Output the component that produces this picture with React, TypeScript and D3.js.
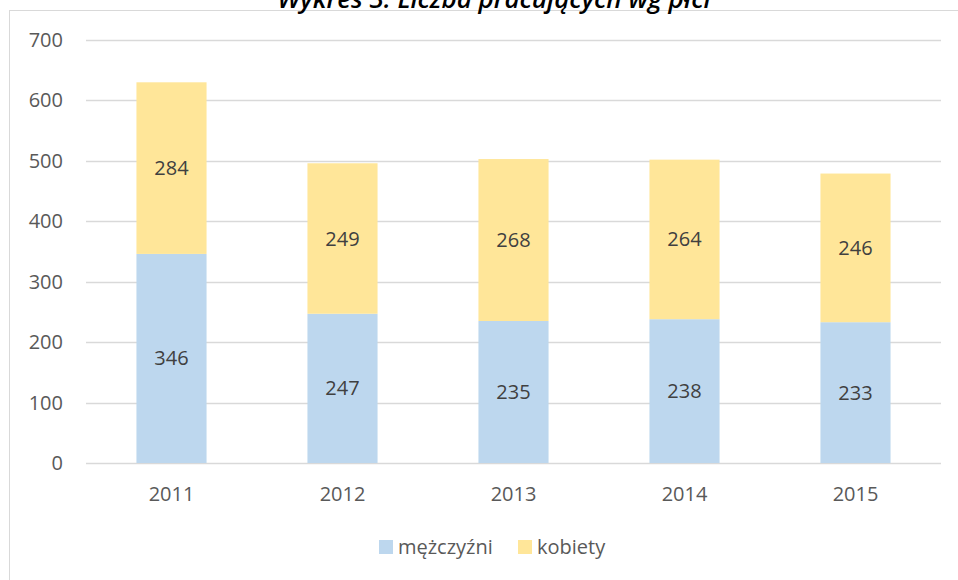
import * as d3 from "d3";

const years = ["2011", "2012", "2013", "2014", "2015"];
const men = [346, 247, 235, 238, 233];
const women = [284, 249, 268, 264, 246];
const yTicks = [0, 100, 200, 300, 400, 500, 600, 700];
const seriesNames = ["mężczyźni", "kobiety"];
const title = "Wykres 3. Liczba pracujących wg płci";

const W = 958;
const H = 580;
const colors = ["#BDD7EE", "#FFE699"];
const font = "'Open Sans', 'Noto Sans', sans-serif";

export default function App() {
  const margin = { top: 40, right: 17, bottom: 117, left: 86 };

  const x = d3
    .scaleBand()
    .domain(years)
    .range([margin.left, W - margin.right])
    .paddingInner(0.59)
    .paddingOuter(0.295);

  const y = d3
    .scaleLinear()
    .domain([0, 700])
    .range([H - margin.bottom, margin.top]);

  const data = years.map((yr, i) => ({ year: yr, men: men[i], women: women[i] }));
  const stacked = d3.stack<any>().keys(["men", "women"])(data);

  const legendX = [379, 518];

  return (
    <div style={{ position: "absolute", left: 0, top: 0 }}>
      <svg width={W} height={H} style={{ display: "block", background: "#fff" }}>
        {/* chart frame */}
        <rect x={9.5} y={10.5} width={W + 10} height={H + 10} fill="none" stroke="#d9d9d9" />

        <text
          x={494}
          y={8}
          textAnchor="middle"
          fontFamily="'Open Sans', sans-serif"
          fontStyle="italic"
          fontWeight={600}
          fontSize={26}
          fill="#000"
        >
          {title}
        </text>

        {/* gridlines + y labels */}
        {yTicks.map((t) => (
          <g key={t}>
            <line
              x1={margin.left}
              x2={W - margin.right}
              y1={Math.round(y(t)) + 0.5}
              y2={Math.round(y(t)) + 0.5}
              stroke="#d9d9d9"
              strokeWidth={1.5}
            />
            <text
              x={63}
              y={y(t)}
              dy="0.35em"
              textAnchor="end"
              fontFamily={font}
              fontSize={20}
              fill="#595959"
            >
              {t}
            </text>
          </g>
        ))}

        {/* bars */}
        {stacked.map((s, si) => (
          <g key={s.key}>
            {s.map((d, i) => (
              <g key={i}>
                <rect
                  x={x(years[i])!}
                  width={x.bandwidth()}
                  y={y(d[1])}
                  height={y(d[0]) - y(d[1])}
                  fill={colors[si]}
                />
                <text
                  x={x(years[i])! + x.bandwidth() / 2}
                  y={y((d[0] + d[1]) / 2)}
                  dy="0.35em"
                  textAnchor="middle"
                  fontFamily={font}
                  fontSize={20}
                  fill="#404040"
                >
                  {d[1] - d[0]}
                </text>
              </g>
            ))}
          </g>
        ))}

        {/* x labels */}
        {years.map((yr) => (
          <text
            key={yr}
            x={x(yr)! + x.bandwidth() / 2}
            y={494}
            dy="0.35em"
            textAnchor="middle"
            fontFamily={font}
            fontSize={20}
            fill="#595959"
          >
            {yr}
          </text>
        ))}

        {/* legend */}
        {seriesNames.map((n, i) => (
          <g key={n}>
            <rect x={legendX[i]} y={540} width={14} height={14} fill={colors[i]} />
            <text
              x={legendX[i] + 19}
              y={547}
              dy="0.35em"
              fontFamily={font}
              fontSize={20}
              fill="#595959"
            >
              {n}
            </text>
          </g>
        ))}
      </svg>
    </div>
  );
}
